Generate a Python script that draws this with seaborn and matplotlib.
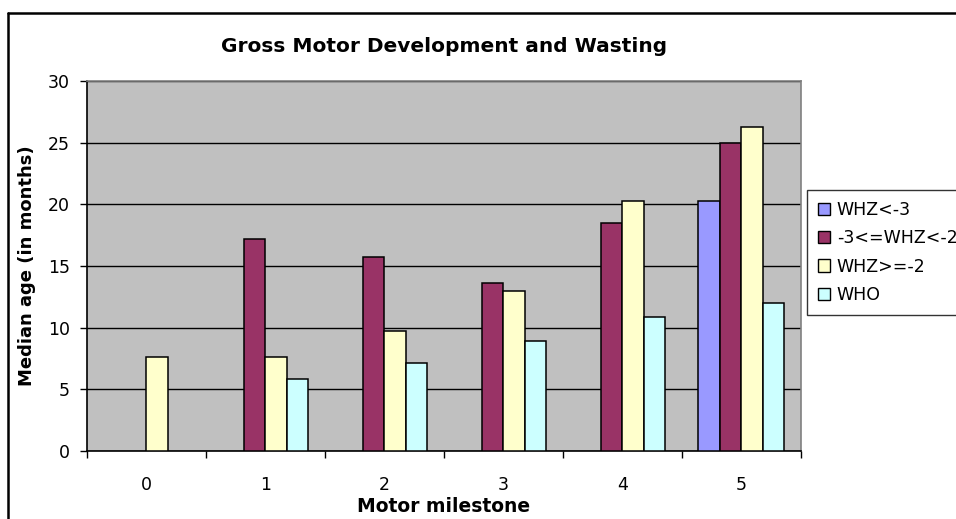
import matplotlib
matplotlib.use("Agg")
import matplotlib.pyplot as plt
import matplotlib.lines as mlines
import matplotlib.patches as mpatches
import numpy as np
import pandas as pd
import seaborn as sns

# ---- data ----
milestones = ["0", "1", "2", "3", "4", "5"]
series_names = ["WHZ<-3", "-3<=WHZ<-2", "WHZ>=-2", "WHO"]
whz_lt_m3 = [np.nan, np.nan, np.nan, np.nan, np.nan, 20.3]
whz_m3_m2 = [np.nan, 17.2, 15.75, 13.6, 18.5, 25.0]
whz_ge_m2 = [7.6, 7.6, 9.7, 13.0, 20.3, 26.3]
who = [np.nan, 5.85, 7.1, 8.9, 10.9, 12.0]
colors = ["#9999FF", "#993366", "#FFFFCC", "#CCFFFF"]

rows = []
for name, vals in zip(series_names, [whz_lt_m3, whz_m3_m2, whz_ge_m2, who]):
    for m, v in zip(milestones, vals):
        rows.append({"milestone": m, "group": name, "value": v})
df = pd.DataFrame(rows)

sns.set_style("white")
plt.rcParams["font.family"] = ["DejaVu Sans"]
plt.rcParams["text.color"] = "black"
plt.rcParams["axes.labelcolor"] = "black"
plt.rcParams["xtick.color"] = "black"
plt.rcParams["ytick.color"] = "black"

W, H = 956, 519
fig = plt.figure(figsize=(W / 100, H / 100), dpi=100)
L, R, T, B = 86.7, 800.7, 81.0, 451.0
ax = fig.add_axes([L / W, 1 - B / H, (R - L) / W, (B - T) / H])
ax.set_facecolor("#C0C0C0")

sns.barplot(data=df.dropna(), x="milestone", y="value", hue="group",
            order=milestones, hue_order=series_names, palette=colors,
            width=0.725, dodge=True, edgecolor="black", linewidth=1.1,
            saturation=1, errorbar=None, ax=ax, legend=False, zorder=3)

ax.set_xlim(-0.5, 5.5)
ax.set_ylim(0, 30)
ax.set_yticks(np.arange(0, 31, 5))
ax.yaxis.grid(True, color="black", linewidth=1.0, zorder=1)
ax.set_axisbelow(True)
ax.tick_params(axis="y", which="major", direction="out", length=5, width=1,
               color="black", labelcolor="black", labelsize=12.5, pad=7, left=True)
ax.set_xticks(range(6))
ax.set_xticklabels(milestones)
ax.tick_params(axis="x", which="major", length=0, labelsize=12.5, pad=18,
               labelcolor="black")
ax.set_xticks(np.arange(-0.5, 6.0, 1.0), minor=True)
ax.tick_params(axis="x", which="minor", direction="out", length=5, width=1,
               color="black", bottom=True)

for s in ["top", "right"]:
    ax.spines[s].set_color("#808080")
    ax.spines[s].set_linewidth(1.2)
for s in ["left", "bottom"]:
    ax.spines[s].set_color("black")
    ax.spines[s].set_linewidth(1.2)

ax.set_xlabel("Motor milestone", fontsize=13.5, fontweight="bold", labelpad=2,
              color="black")
ax.set_ylabel("Median age (in months)", fontsize=13, fontweight="bold", labelpad=9,
              color="black")

fig.text((L + R) / 2 / W, 1 - 47 / H, "Gross Motor Development and Wasting",
         ha="center", va="center", fontsize=14.5, fontweight="bold", color="black")

handles = [mpatches.Patch(facecolor=c, edgecolor="black", linewidth=1.0, label=n)
           for c, n in zip(colors, series_names)]
leg = fig.legend(handles=handles, loc="upper left",
                 bbox_to_anchor=(807 / W, 1 - 190 / H), frameon=True,
                 fontsize=12.5, handlelength=0.7, handleheight=0.7,
                 handletextpad=0.4, labelspacing=0.6, borderpad=0.62,
                 fancybox=False, borderaxespad=0, labelcolor="black")
leg.get_frame().set_edgecolor("black")
leg.get_frame().set_linewidth(1.0)

# outer chart border (top and left visible)
fig.add_artist(mlines.Line2D([8 / W, 1.0], [1 - 13 / H, 1 - 13 / H],
                             color="black", linewidth=1.8, transform=fig.transFigure))
fig.add_artist(mlines.Line2D([8 / W, 8 / W], [1 - 13 / H, 0.0],
                             color="black", linewidth=1.8, transform=fig.transFigure))

fig.savefig("out.png", dpi=100)
